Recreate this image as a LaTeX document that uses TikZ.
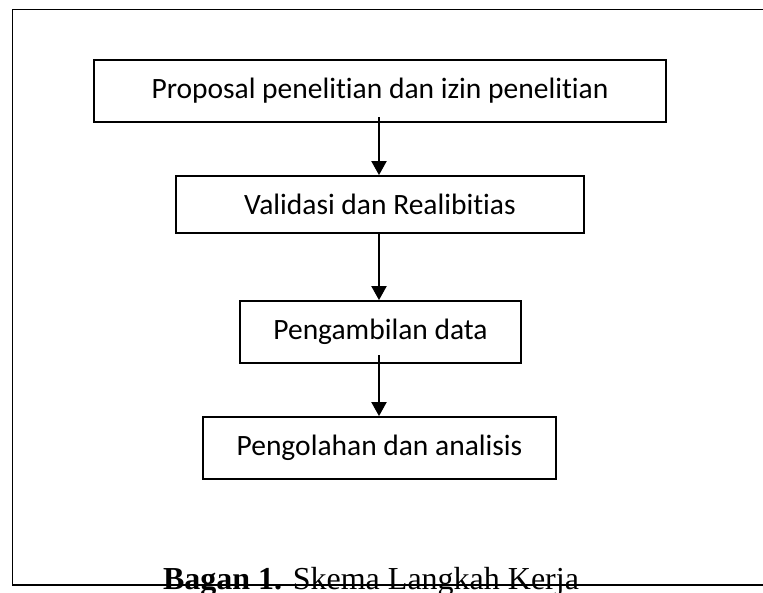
\documentclass[tikz,border=0pt]{standalone}
\usepackage{fontspec}
\setmainfont{Liberation Serif}
\newfontfamily\boxfont[Ligatures=NoCommon]{Carlito}
\usetikzlibrary{arrows.meta}
\begin{document}
\begin{tikzpicture}[x=1pt,y=-1pt,
  stepbox/.style={draw=black,line width=1.8pt,inner sep=0pt,font=\boxfont\fontsize{29.5}{34}\selectfont},
  flowarrow/.style={line width=2pt,-{Triangle[length=14pt,width=15pt]}},
  framestyle/.style={line width=1.5pt}]
\useasboundingbox (0,0) rectangle (763,592);
% boxes
\node[stepbox,minimum width=572pt,minimum height=62pt] (b1) at (380,91) {Proposal penelitian dan izin penelitian};
\node[stepbox,minimum width=408pt,minimum height=57pt] (b2) at (380,204.5) {Validasi dan Realibitias};
\node[stepbox,minimum width=281pt,minimum height=62pt] (b3) at (380.5,332) {Pengambilan data};
\node[stepbox,minimum width=353pt,minimum height=62pt] (b4) at (379.5,448) {Pengolahan dan analisis};
% arrows
\coordinate (a1s) at (379,117);
\coordinate (a2s) at (379,233);
\coordinate (a3s) at (379,355);
\draw[flowarrow] (a1s) -- (a1s |- b2.north);
\draw[flowarrow] (a2s) -- (a2s |- b3.north);
\draw[flowarrow] (a3s) -- (a3s |- b4.north);
% caption
\node[anchor=base,inner sep=0pt,font=\fontsize{32}{38}\selectfont] (cap) at (371,589) {\textbf{Bagan 1.} Skema Langkah Kerja};
% frame
\coordinate (ftr) at (763,9.5);
\coordinate (ftl) at (12.7,9.5);
\coordinate (fbl) at (12.7,585);
\coordinate (fbr) at (763,585);
\draw[framestyle] (ftr) -- (ftl) -- (fbl) -- (fbr);
\end{tikzpicture}
\end{document}
